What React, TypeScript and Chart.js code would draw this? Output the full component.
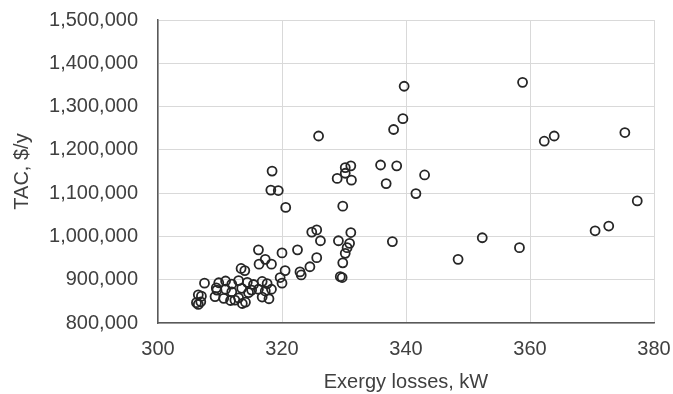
import React, { useEffect, useRef } from "react";
import { Chart, registerables } from "chart.js";

Chart.register(...registerables);

// Exergy losses (kW) and TAC ($/y) for each design point
const exergyLosses: number[] = [
  339.7, 358.8, 339.5, 338.0, 362.3, 363.9, 375.3, 335.9, 338.5, 336.8,
  343.0, 341.6, 377.3, 372.7, 370.5, 352.3, 337.8, 358.3, 348.4,
  325.9, 318.4, 318.2, 319.4, 320.6, 330.2, 331.1, 328.9, 330.2, 331.2,
  329.8, 324.8, 325.6, 326.2, 329.1, 331.1, 330.9, 330.5, 330.2, 329.8,
  329.4, 329.7, 316.2, 320.0, 322.5, 317.3, 316.3, 318.3, 325.6, 324.5,
  322.9, 323.1, 320.5, 319.7, 320.0,
  313.4, 314.0, 307.5, 306.5, 307.0, 306.2, 306.9, 306.5, 309.4, 309.2,
  309.8, 310.9, 311.9, 313.0, 314.4, 315.4, 316.8, 317.6,
  309.5, 310.9, 311.9, 313.5, 314.6, 316.2, 317.3,
  310.6, 311.7, 313.0, 314.1, 316.8, 317.9, 318.3, 312.4, 313.6, 315.1,
];

const tac: number[] = [
  1347000, 1356000, 1272000, 1247000, 1220000, 1232000, 1240000, 1165000, 1163000, 1122000,
  1142000, 1099000, 1082000, 1024000, 1013000, 997000, 988000, 974000, 947000,
  1232000, 1151000, 1107000, 1106000, 1067000, 1159000, 1163000, 1134000, 1146000, 1130000,
  1070000, 1010000, 1015000, 990000, 990000, 1009000, 984000, 974000, 961000, 939000,
  907000, 905000, 969000, 962000, 969000, 947000, 936000, 936000, 951000, 930000,
  918000, 911000, 921000, 905000, 892000,
  926000, 921000, 892000, 865000, 862000, 847000, 849000, 843000, 881000, 861000,
  893000, 897000, 890000, 898000, 894000, 889000, 896000, 891000,
  876000, 878000, 872000, 880000, 870000, 878000, 874000,
  857000, 852000, 858000, 848000, 860000, 856000, 878000, 853000, 845000, 876000,
];

const xTicks: number[] = [300, 320, 340, 360, 380];
const yTicks: number[] = [800000, 900000, 1000000, 1100000, 1200000, 1300000, 1400000, 1500000];

const xTitle = "Exergy losses, kW";
const yTitle = "TAC, $/y";

export default function App() {
  const ref = useRef<HTMLCanvasElement | null>(null);

  useEffect(() => {
    if (!ref.current) return;
    const points = exergyLosses.map((x, i) => ({ x, y: tac[i] }));
    const font = "'Liberation Sans', Arial, sans-serif";
    const chart = new Chart(ref.current, {
      type: "scatter",
      data: {
        datasets: [
          {
            data: points,
            pointRadius: 4.5,
            pointHoverRadius: 4.5,
            pointBorderWidth: 1.8,
            borderColor: "#262626",
            backgroundColor: "rgba(255,255,255,0)",
            pointBackgroundColor: "rgba(255,255,255,0)",
          },
        ],
      },
      options: {
        animation: false,
        responsive: false,
        maintainAspectRatio: false,
        layout: { padding: { left: 0, right: 19, top: 20, bottom: 0 } },
        plugins: { legend: { display: false }, tooltip: { enabled: false } },
        scales: {
          x: {
            type: "linear",
            min: 300,
            max: 380,
            afterBuildTicks: (s: any) => {
              s.ticks = xTicks.map((v) => ({ value: v }));
            },
            afterFit: (s: any) => {
              s.height = 71;
              s.paddingLeft = 0;
              s.paddingRight = 0;
              s.paddingTop = 0;
              s.paddingBottom = 0;
            },
            grid: { color: "#d9d9d9", lineWidth: 1, drawTicks: false },
            border: { color: "#595959", width: 1.5 },
            ticks: {
              padding: 14,
              color: "#404040",
              font: { family: font, size: 20 },
              callback: (v: any) => String(v),
            },
            title: {
              display: true,
              text: xTitle,
              color: "#404040",
              font: { family: font, size: 20 },
              padding: { top: 6, bottom: 0 },
            },
          },
          y: {
            type: "linear",
            min: 800000,
            max: 1500000,
            afterBuildTicks: (s: any) => {
              s.ticks = yTicks.map((v) => ({ value: v }));
            },
            afterFit: (s: any) => {
              s.width = 158;
              s.paddingLeft = 0;
              s.paddingRight = 0;
              s.paddingTop = 0;
              s.paddingBottom = 0;
            },
            grid: { color: "#d9d9d9", lineWidth: 1, drawTicks: false },
            border: { color: "#595959", width: 1.5 },
            ticks: {
              padding: 20,
              color: "#404040",
              font: { family: font, size: 20 },
              callback: (v: any) => Number(v).toLocaleString("en-US"),
            },
            title: {
              display: true,
              text: yTitle,
              color: "#404040",
              font: { family: font, size: 20 },
              padding: { top: 10, bottom: 4 },
            },
          },
        },
      },
    });
    return () => chart.destroy();
  }, []);

  return (
    <div style={{ position: "absolute", left: 0, top: 0, width: 673, height: 394, background: "#fff" }}>
      <canvas ref={ref} width={673} height={394} style={{ width: 673, height: 394 }} />
    </div>
  );
}
